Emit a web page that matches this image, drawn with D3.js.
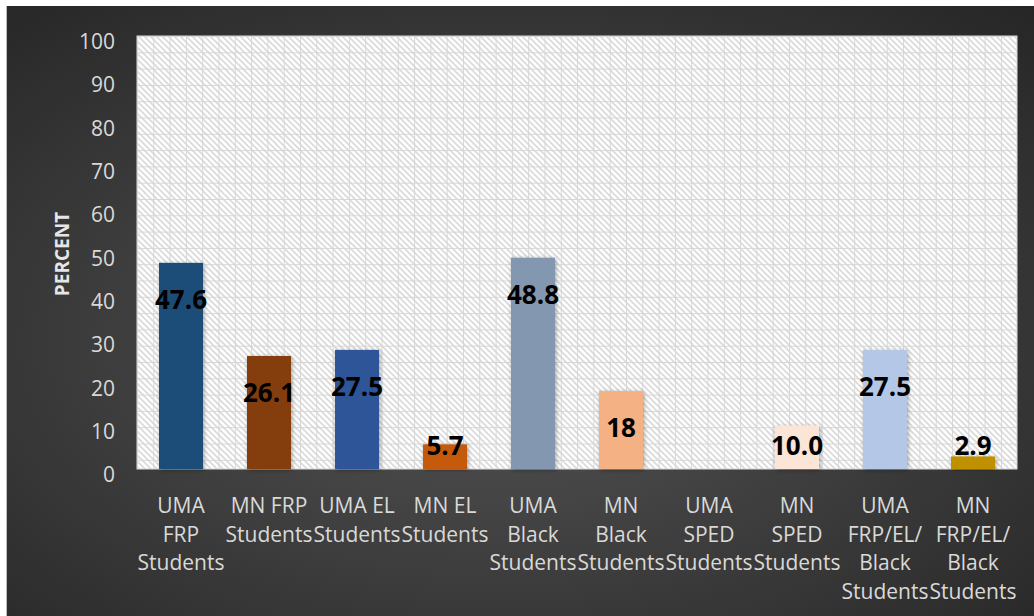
<!DOCTYPE html>
<html>
<head>
<meta charset="utf-8">
<script src="https://cdn.jsdelivr.net/npm/d3@7"></script>
<style>
  body { margin: 0; background: #fff; }
  svg { display: block; }
</style>
</head>
<body>
<script>
var categories = ["UMA FRP Students", "MN FRP Students", "UMA EL Students", "MN EL Students",
  "UMA Black Students", "MN Black Students", "UMA SPED Students", "MN SPED Students",
  "UMA FRP/EL/Black Students", "MN FRP/EL/Black Students"]
var tickLines = [["UMA", "FRP", "Students"], ["MN FRP", "Students"], ["UMA EL", "Students"],
  ["MN EL", "Students"], ["UMA", "Black", "Students"], ["MN", "Black", "Students"],
  ["UMA", "SPED", "Students"], ["MN", "SPED", "Students"], ["UMA", "FRP/EL/", "Black", "Students"],
  ["MN", "FRP/EL/", "Black", "Students"]]
var values = [47.6, 26.1, 27.5, 5.7, 48.8, 18, null, 10.0, 27.5, 2.9]
var labels = ["47.6", "26.1", "27.5", "5.7", "48.8", "18", "", "10.0", "27.5", "2.9"]
var colors = ["#1F4E79", "#843C0C", "#2F5597", "#C55A11", "#8497B0", "#F4B183",
  "#A5A5A5", "#FBE5D6", "#B4C7E7", "#BF9000"]
var yTicks = [0, 10, 20, 30, 40, 50, 60, 70, 80, 90, 100]

var W = 1034, H = 616
var plot = {left: 137, right: 1017, top: 36, bottom: 469}

var svg = d3.select("body").append("svg")
    .attr("width", W)
    .attr("height", H)

var defs = svg.append("defs")

var bg = defs.append("radialGradient")
    .attr("id", "bg")
    .attr("cx", "48%").attr("cy", "55%").attr("r", "80%")
bg.append("stop").attr("offset", "0%").attr("stop-color", "#555555")
bg.append("stop").attr("offset", "100%").attr("stop-color", "#232323")

// diagonal hatch + small grid like the excel pattern fill
var hatch = defs.append("pattern")
    .attr("id", "hatch")
    .attr("patternUnits", "userSpaceOnUse")
    .attr("width", 6).attr("height", 6)
hatch.append("rect").attr("width", 6).attr("height", 6).attr("fill", "#fff")
hatch.append("path")
    .attr("d", "M-1,-1 L7,7 M-1,5 L1,7 M5,-1 L7,1")
    .attr("stroke", "#dadada").attr("stroke-width", 1.6)

var grid = defs.append("pattern")
    .attr("id", "grid")
    .attr("patternUnits", "userSpaceOnUse")
    .attr("x", plot.left).attr("y", plot.top)
    .attr("width", 16.3).attr("height", 16.3)
grid.append("path")
    .attr("d", "M0,0.5 H16.3 M0.5,0 V16.3")
    .attr("stroke", "#d6d6d6").attr("stroke-width", 1)

var shadow = defs.append("filter").attr("id", "shadow")
    .attr("x", "-20%").attr("y", "-10%").attr("width", "140%").attr("height", "120%")
shadow.append("feDropShadow")
    .attr("dx", 1).attr("dy", 1).attr("stdDeviation", 2)
    .attr("flood-color", "#000").attr("flood-opacity", 0.35)

svg.append("rect")
    .attr("x", 6).attr("y", 6)
    .attr("width", W - 6).attr("height", H - 6)
    .attr("fill", "url(#bg)")
svg.append("line")
    .attr("x1", 6.5).attr("x2", 6.5).attr("y1", 6).attr("y2", H)
    .attr("stroke", "#bdbdbd").attr("stroke-width", 1)

var x = d3.scaleBand()
    .domain(categories)
    .range([plot.left, plot.right])
    .paddingInner(0.5)
    .paddingOuter(0.25)

var y = d3.scaleLinear()
    .domain([0, 100])
    .range([plot.bottom, plot.top])

svg.append("rect")
    .attr("x", plot.left).attr("y", plot.top)
    .attr("width", plot.right - plot.left).attr("height", plot.bottom - plot.top)
    .attr("fill", "url(#hatch)")
svg.append("rect")
    .attr("x", plot.left).attr("y", plot.top)
    .attr("width", plot.right - plot.left).attr("height", plot.bottom - plot.top)
    .attr("fill", "url(#grid)")
svg.append("rect")
    .attr("x", plot.left).attr("y", plot.top)
    .attr("width", plot.right - plot.left).attr("height", plot.bottom - plot.top)
    .attr("fill", "none").attr("stroke", "#d9d9d9")

// Y axis
var yAxis = svg.append("g")
    .attr("transform", "translate(" + (plot.left - 22) + ",0)")
    .call(d3.axisLeft(y).tickValues(yTicks).tickSize(0).tickPadding(0))
yAxis.select(".domain").remove()
yAxis.selectAll("text")
    .attr("dy", "0.6em")
    .style("font-family", "'Open Sans'")
    .style("font-size", "21px")
    .style("fill", "#d9d9d9")

svg.append("text")
    .attr("transform", "translate(69," + 254 + ") rotate(-90)")
    .attr("text-anchor", "middle")
    .style("font-family", "'Open Sans'")
    .style("font-weight", "bold")
    .style("font-size", "19px")
    .style("fill", "#e6e6e6")
    .text("PERCENT")

var data = categories.map(function(c, i) {
  return {cat: c, value: values[i], label: labels[i], color: colors[i], lines: tickLines[i]}
})

svg.selectAll(".bar")
  .data(data.filter(function(d) { return d.value != null; }))
  .enter().append("rect")
    .attr("class", "bar")
    .attr("x", function(d) { return x(d.cat); })
    .attr("width", x.bandwidth())
    .attr("y", function(d) { return y(d.value); })
    .attr("height", function(d) { return y(0) - y(d.value); })
    .attr("fill", function(d) { return d.color; })
    .attr("filter", "url(#shadow)")

svg.selectAll(".lbl")
  .data(data.filter(function(d) { return d.value != null; }))
  .enter().append("text")
    .attr("class", "lbl")
    .attr("x", function(d) { return x(d.cat) + x.bandwidth() / 2; })
    .attr("y", function(d) { return Math.min(y(d.value) + 37, y(0) - 23) + 9; })
    .attr("text-anchor", "middle")
    .style("font-family", "'Open Sans'")
    .style("font-weight", "bold")
    .style("font-size", "26px")
    .style("fill", "#000")
    .text(function(d) { return d.label; })

// category labels
var xl = svg.selectAll(".xl")
  .data(data)
  .enter().append("text")
    .attr("class", "xl")
    .attr("text-anchor", "middle")
    .style("font-family", "'Open Sans'")
    .style("font-size", "21px")
    .style("fill", "#d9d9d9")
xl.selectAll("tspan")
  .data(function(d) { return d.lines.map(function(l) { return {t: l, cx: x(d.cat) + x.bandwidth() / 2}; }); })
  .enter().append("tspan")
    .attr("x", function(d) { return d.cx; })
    .attr("y", function(d, i) { return 513 + i * 28.7; })
    .text(function(d) { return d.t; })
</script>
</body>
</html>
